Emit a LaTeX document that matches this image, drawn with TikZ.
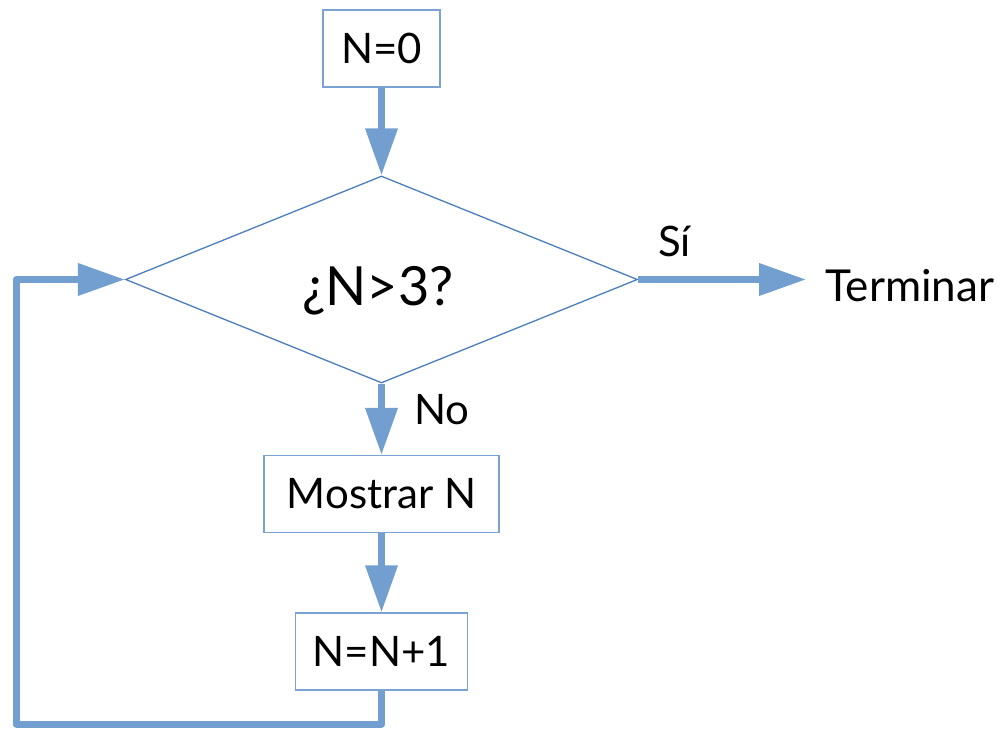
\documentclass[tikz,border=0pt]{standalone}
\usepackage{fontspec}
\setmainfont{Lato}
\usetikzlibrary{arrows.meta,shapes.geometric}
\definecolor{arrowc}{HTML}{729FCF}
\definecolor{boxc}{HTML}{7AA3D4}
\definecolor{diac}{HTML}{4A7EBF}
\tikzset{
  procbox/.style={draw=boxc, line width=1.3pt, fill=white, inner sep=0pt, minimum height=77pt, font=\fontsize{42}{50}\selectfont},
  flowarrow/.style={draw=arrowc, line width=7pt, -{Triangle[length=47pt,width=31pt]}},
  flowline/.style={draw=arrowc, line width=7pt},
  lbl/.style={font=\fontsize{42}{50}\selectfont, inner sep=0pt}
}
\begin{document}
\begin{tikzpicture}[x=1pt,y=-1pt]
\useasboundingbox (0,0) rectangle (1001,730);
\node[procbox, minimum width=117pt] (n0) at (381.5,48.5) {N=0};
\node[draw=diac, line width=1.3pt, diamond, aspect=2.48, minimum width=512pt, minimum height=207pt, inner sep=0pt] (dec) at (381.5,279.5) {};
\node[font=\fontsize{54}{60}\selectfont, inner sep=0pt, anchor=base] (q) at (378,305) {¿N>3?};
\node[procbox, minimum width=235pt] (most) at (381.5,494) {Mostrar N};
\node[procbox, minimum width=172pt] (inc) at (381.5,651.5) {N=N+1};
\node[lbl, font=\fontsize{44}{50}\selectfont, anchor=base west] (term) at (825,301) {Terminar};
\node[lbl, anchor=base west] (si) at (658,256) {Sí};
\node[lbl, anchor=base west] (no) at (414,424) {No};
\coordinate (c1) at (381.5,724);
\coordinate (c2) at (16,724);
\coordinate (c3) at (16,279.5);
\coordinate (tEnd) at (806,279.5);
\draw[flowarrow] (n0.south) -- (dec.north);
\draw[flowarrow] (dec.east) -- (tEnd);
\draw[flowarrow] (dec.south) -- (most.north);
\draw[flowarrow] (most.south) -- (inc.north);
\draw[flowline, line join=round, -{Triangle[length=47pt,width=31pt]}] (inc.south) -- (c1) -- (c2) -- (c3) -- (dec.west);
\end{tikzpicture}
\end{document}
